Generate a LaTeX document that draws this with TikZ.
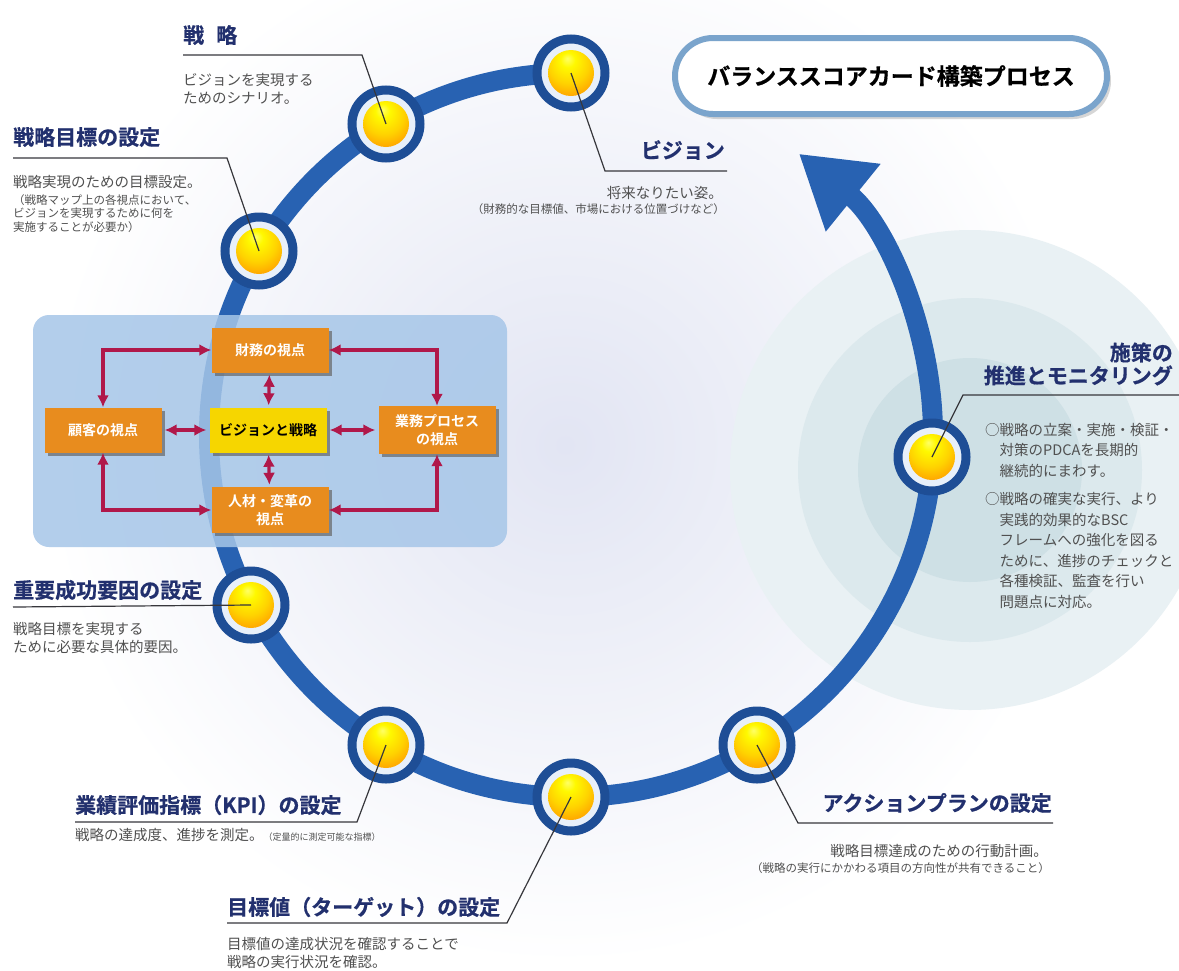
\documentclass[tikz,border=0pt]{standalone}
\usepackage{fontspec}
\newfontfamily\jp{Noto Sans CJK JP}[BoldFont={Noto Sans CJK JP Bold}]
\newfontfamily\jpheavy{Noto Sans CJK JP Bold}[FakeBold=0.6]
\usepackage{tikz}
\usetikzlibrary{arrows.meta,shadows}

\definecolor{ringblue}{RGB}{40,98,178}
\definecolor{wakublue}{RGB}{30,78,150}
\definecolor{haze}{RGB}{232,240,250}
\definecolor{navy}{RGB}{34,48,110}
\definecolor{bodygray}{RGB}{80,80,80}
\definecolor{sengray}{RGB}{55,55,60}
\definecolor{bscblue}{RGB}{166,198,232}
\definecolor{bscorange}{RGB}{232,140,30}
\definecolor{bscyellow}{RGB}{246,214,0}
\definecolor{yajired}{RGB}{176,24,74}
\definecolor{titleblue}{RGB}{122,164,204}
\definecolor{lavender}{RGB}{226,229,243}
\definecolor{mizu1}{RGB}{233,241,244}
\definecolor{mizu2}{RGB}{220,233,237}
\definecolor{mizu3}{RGB}{206,224,229}

\pgfdeclareradialshading{kindama}{\pgfpoint{-4bp}{16bp}}{%
  color(0bp)=(white!40!yellow); color(8bp)=(yellow!95!orange);
  color(22bp)=(yellow!65!orange); color(40bp)=(orange!90!yellow);
  color(66bp)=(orange!75!red)}

\begin{document}
\begin{tikzpicture}[x=1pt,y=-1pt,
    ring/.style={line width=20pt,draw=ringblue},
    waku/.style={circle,minimum size=68pt,inner sep=0pt,line width=9pt,draw=wakublue,fill=haze},
    hikisen/.style={line width=1.2pt,draw=sengray},
    midashi/.style={font=\jpheavy\fontsize{21}{23}\selectfont,text=navy,inner sep=0pt},
    honbun/.style={font=\jp\fontsize{14.5}{18}\selectfont,text=bodygray,inner sep=0pt,align=left},
    chui/.style={font=\jp\fontsize{11.5}{13.5}\selectfont,text=bodygray,inner sep=0pt,align=left},
    shiten/.style={rectangle,fill=bscorange,text=white,font=\jp\bfseries\fontsize{14}{18}\selectfont,
      minimum width=117pt,minimum height=45pt,align=center,
      drop shadow={shadow xshift=3pt,shadow yshift=-3pt,fill=black!60,opacity=.7}},
    yaji/.style={<->,>={Latex[length=12pt,width=12pt]},line width=3.2pt,draw=yajired}]

  \useasboundingbox (0,0) rectangle (1179,970);
  \begin{scope}
    \clip (0,0) rectangle (1179,970);
    \fill[white] (0,0) rectangle (1179,970);
    \shade[inner color=lavender,outer color=white] (565,445) circle[radius=520];
    \fill[mizu1] (970,470) circle[radius=240];
    \fill[mizu2] (970,470) circle[radius=172];
    \fill[mizu3] (970,470) circle[radius=112];
  \end{scope}

  % the cycle
  \coordinate (ctr) at (571,435);
  \draw[ring,-{Triangle[width=82pt,length=70pt]}] (ctr) ++(0,-362)
    arc[start angle=-90,end angle=-411,radius=362];

  % balanced scorecard
  \node[fill=bscblue,fill opacity=.85,rounded corners=16pt,
        minimum width=474pt,minimum height=232pt] (bsc) at (270,431) {};
  \node[shiten] (zaimu) at (270,350) {財務の視点};
  \node[shiten,fill=bscyellow,text=black] (vis-c) at (268,430) {ビジョンと戦略};
  \node[shiten] (kokyaku) at (103,430) {顧客の視点};
  \node[shiten,minimum height=48pt] (gyomu) at (437,430) {業務プロセス\\の視点};
  \node[shiten,minimum height=46pt] (jinzai) at (270,510) {人材・変革の\\視点};

  \draw[yaji] (zaimu) -| (kokyaku);
  \draw[yaji] (zaimu) -| (gyomu);
  \draw[yaji] (jinzai) -| (kokyaku);
  \draw[yaji] (jinzai) -| (gyomu);
  \draw[yaji,shorten <=2pt,shorten >=2pt] (zaimu) -- (vis-c);
  \draw[yaji,shorten <=2pt,shorten >=2pt] (vis-c) -- (jinzai);
  \draw[yaji,shorten <=3pt,shorten >=3pt] (kokyaku) -- (vis-c);
  \draw[yaji,shorten <=3pt,shorten >=3pt] (vis-c) -- (gyomu);

  % steps on the cycle
  \node[waku] (b-vision) at (571,73) {};
  \node[waku] (b-senryaku) at (386,124) {};
  \node[waku] (b-mokuhyo) at (259,251) {};
  \node[waku] (b-ksf) at (251,605) {};
  \node[waku] (b-kpi) at (386,745) {};
  \node[waku] (b-target) at (571,797) {};
  \node[waku] (b-action) at (757,745) {};
  \node[waku] (b-monitor) at (932,457) {};
  \foreach \b in {b-vision,b-senryaku,b-mokuhyo,b-ksf,b-kpi,b-target,b-action,b-monitor}
    \shade[shading=kindama] (\b) circle[radius=23];

  % callouts
  \coordinate (k-senryaku) at (362,55);     \coordinate (e-senryaku) at (183,55);
  \coordinate (k-mokuhyo) at (227,158);     \coordinate (e-mokuhyo) at (13,158);
  \coordinate (k-vision) at (605,171);      \coordinate (e-vision) at (727,171);
  \coordinate (k-monitor) at (963,395);     \coordinate (e-monitor) at (1179,395);
  \coordinate (e-ksf) at (13,607);
  \coordinate (k-kpi) at (357,822);         \coordinate (e-kpi) at (75,822);
  \coordinate (k-target) at (507,923);      \coordinate (e-target) at (227,923);
  \coordinate (k-action) at (798,823);      \coordinate (e-action) at (1053,823);

  \draw[hikisen] (b-senryaku.center) -- (k-senryaku) -- (e-senryaku);
  \draw[hikisen] (b-mokuhyo.center) -- (k-mokuhyo) -- (e-mokuhyo);
  \draw[hikisen] (b-vision.center) -- (k-vision) -- (e-vision);
  \draw[hikisen] (b-monitor.center) -- (k-monitor) -- (e-monitor);
  \draw[hikisen] (b-ksf.center) -- (e-ksf);
  \draw[hikisen] (b-kpi.center) -- (k-kpi) -- (e-kpi);
  \draw[hikisen] (b-target.center) -- (k-target) -- (e-target);
  \draw[hikisen] (b-action.center) -- (k-action) -- (e-action);

  % headings and texts
  \node[midashi,anchor=west] (h-senryaku) at (183,35) {戦\hspace{12pt}略};
  \node[honbun,anchor=north west] (t-senryaku) at (183,73) {ビジョンを実現する\\ためのシナリオ。};

  \node[midashi,anchor=west] (h-mokuhyo) at (13,137) {戦略目標の設定};
  \node[honbun,anchor=north west] (t-mokuhyo) at (13,175) {戦略実現のための目標設定。};
  \node[chui,anchor=north west] (s-mokuhyo) at (13,194) {（戦略マップ上の各視点において、\\ビジョンを実現するために何を\\実施することが必要か）};

  \node[midashi,anchor=east] (h-vision) at (725,150) {ビジョン};
  \node[honbun,anchor=north east] (t-vision) at (723,186) {将来なりたい姿。};
  \node[chui,anchor=north east] (s-vision) at (725,203) {（財務的な目標値、市場における位置づけなど）};

  \node[midashi,anchor=east,align=right] (h-monitor) at (1173,364) {施策の\\推進とモニタリング};
  \node[honbun,anchor=north west,font=\jp\fontsize{14.5}{20.5}\selectfont] (t-monitor) at (985,423) {○戦略の立案・実施・検証・\\
    \hspace*{1em}対策のPDCAを長期的\\
    \hspace*{1em}継続的にまわす。\\[8pt]
    ○戦略の確実な実行、より\\
    \hspace*{1em}実践的効果的なBSC\\
    \hspace*{1em}フレームへの強化を図る\\
    \hspace*{1em}ために、進捗のチェックと\\
    \hspace*{1em}各種検証、監査を行い\\
    \hspace*{1em}問題点に対応。};

  \node[midashi,anchor=west] (h-ksf) at (13,590) {重要成功要因の設定};
  \node[honbun,anchor=north west] (t-ksf) at (13,622) {戦略目標を実現する\\ために必要な具体的要因。};

  \node[midashi,anchor=west] (h-kpi) at (75,805) {業績評価指標（KPI）の設定};
  \node[honbun,anchor=north west] (t-kpi) at (75,828) {戦略の達成度、進捗を測定。{\fontsize{9}{11}\selectfont（定量的に測定可能な指標）}};

  \node[midashi,anchor=west] (h-target) at (227,907) {目標値（ターゲット）の設定};
  \node[honbun,anchor=north west] (t-target) at (227,937) {目標値の達成状況を確認することで\\戦略の実行状況を確認。};

  \node[midashi,anchor=east] (h-action) at (1052,803) {アクションプランの設定};
  \node[honbun,anchor=north east] (t-action) at (1048,844) {戦略目標達成のための行動計画。};
  \node[chui,anchor=north east] (s-action) at (1050,862) {（戦略の実行にかかわる項目の方向性が共有できること）};

  % title
  \node[draw=titleblue,line width=6pt,fill=white,rounded corners=38pt,
        minimum width=432pt,minimum height=76pt,
        font=\jpheavy\fontsize{23}{26}\selectfont,
        drop shadow={shadow xshift=4pt,shadow yshift=-5pt,fill=black!40,opacity=.4}]
    (title) at (891,76) {バランススコアカード構築プロセス};
\end{tikzpicture}
\end{document}
